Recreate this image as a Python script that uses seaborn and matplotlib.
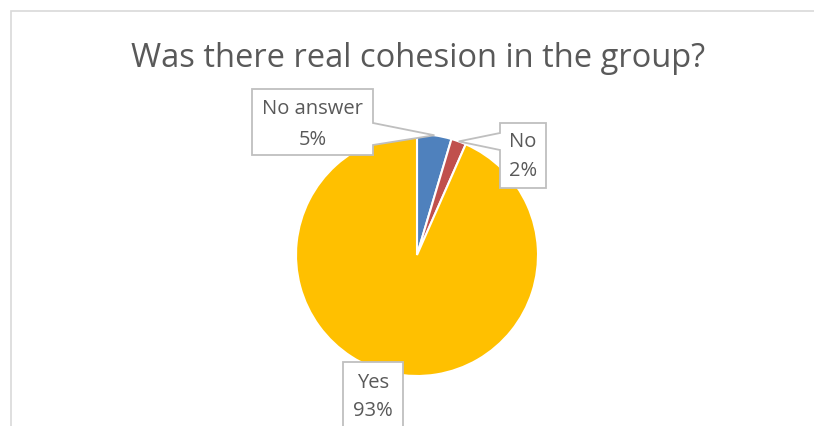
import matplotlib
matplotlib.use('Agg')
import matplotlib.pyplot as plt
import seaborn as sns
import numpy as np
from matplotlib.patches import Polygon

# data
categories = ['No answer', 'No', 'Yes']
shares = [4.6, 2.0, 93.4]
colors = ['#4F81BD', '#C0504D', '#FFC000']
title = 'Was there real cohesion in the group?'

# layout, in image pixels (y measured from the top)
W, H = 814, 426
CX, CY, R = 417, 255, 121
callouts = {
    'No answer': dict(box=(252, 89, 373, 155), side='right', base=(123, 145), text_y=(109, 140)),
    'No': dict(box=(500, 123, 546, 188), side='left', base=(133, 150), text_y=(142, 171)),
    'Yes': dict(box=(343, 362, 403, 440), side=None, base=None, text_y=(383, 411)),
}
TEXT = '#595959'
EDGE = '#BFBFBF'

sns.set_theme(style='white')
plt.rcParams['font.family'] = ['Open Sans', 'DejaVu Sans']


def flip(y):
    return H - y


fig = plt.figure(figsize=(W / 100, H / 100), dpi=100)
ax = fig.add_axes([0, 0, 1, 1])

wedges, _ = ax.pie(
    shares, colors=colors, startangle=90, counterclock=False,
    center=(CX, flip(CY)), radius=R,
    wedgeprops=dict(edgecolor='white', linewidth=1.5),
)
ax.set_xlim(0, W)
ax.set_ylim(0, H)
ax.set_aspect('equal')
ax.axis('off')

# chart frame: only the left and top edges fall inside the picture
ax.plot([10.5, 10.5, W + 5], [-5, flip(11), flip(11)], color='#D9D9D9',
        linewidth=1.2, zorder=0, solid_joinstyle='miter')

ax.text(CX + 1, flip(67), title, ha='center', va='baseline',
        fontsize=23.5, color=TEXT)

for name, share, w in zip(categories, shares, wedges):
    c = callouts[name]
    x0, y0, x1, y1 = c['box']
    mid = np.deg2rad((w.theta1 + w.theta2) / 2)
    tip = (CX + R * np.cos(mid), flip(CY) + R * np.sin(mid))

    pts = [(x0, y0), (x1, y0), (x1, y1), (x0, y1)]
    if c['side'] == 'right':
        b0, b1 = c['base']
        pts = [(x0, y0), (x1, y0), (x1, b0), None, (x1, b1), (x1, y1), (x0, y1)]
    elif c['side'] == 'left':
        b0, b1 = c['base']
        pts = [(x0, y0), (x1, y0), (x1, y1), (x0, y1), (x0, b1), None, (x0, b0)]
    verts = [tip if p is None else (p[0], flip(p[1])) for p in pts]
    ax.add_patch(Polygon(verts, closed=True, facecolor='white',
                         edgecolor=EDGE, linewidth=1.3, zorder=3,
                         joinstyle='miter'))

    xc = (x0 + x1) / 2
    ty0, ty1 = c['text_y']
    ax.text(xc, flip(ty0), name, ha='center', va='center',
            fontsize=14.5, color=TEXT, zorder=4)
    ax.text(xc, flip(ty1), f'{round(share)}%', ha='center', va='center',
            fontsize=14.5, color=TEXT, zorder=4)

fig.savefig('out.png', dpi=100)
